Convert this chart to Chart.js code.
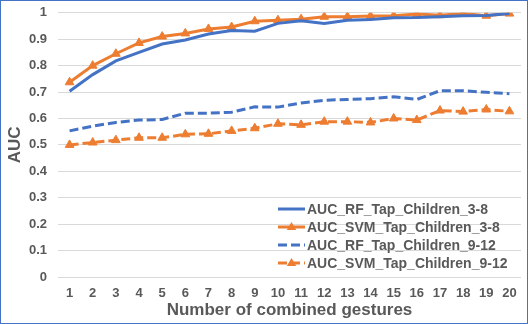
<!DOCTYPE html>
<html><head><meta charset="utf-8">
<script src="https://cdn.jsdelivr.net/npm/chart.js@4"></script>
<style>
html,body{margin:0;padding:0;background:#fff;}
#wrap{width:528px;height:324px;box-sizing:border-box;border:1px solid #4472C4;position:relative;overflow:hidden;}
canvas{display:block;position:absolute;left:0;top:-7px;}
</style></head><body>
<div id="wrap"><canvas id="c" width="526" height="329"></canvas></div>
<script>
const categories = ['1','2','3','4','5','6','7','8','9','10','11','12','13','14','15','16','17','18','19','20'];
const rf38  = [0.703,0.766,0.818,0.850,0.882,0.897,0.920,0.933,0.930,0.960,0.970,0.960,0.972,0.975,0.981,0.982,0.985,0.989,0.990,0.997];
const svm38 = [0.737,0.800,0.845,0.886,0.910,0.922,0.939,0.946,0.968,0.972,0.976,0.985,0.985,0.988,0.989,0.995,0.991,0.997,0.989,0.997];
const rf912 = [0.553,0.571,0.585,0.594,0.596,0.620,0.620,0.624,0.644,0.643,0.659,0.669,0.672,0.675,0.682,0.672,0.705,0.705,0.699,0.694];
const svm912= [0.500,0.509,0.518,0.527,0.527,0.540,0.542,0.553,0.563,0.580,0.576,0.588,0.588,0.585,0.600,0.594,0.630,0.626,0.634,0.627];
const seriesNames = ['AUC_RF_Tap_Children_3-8','AUC_SVM_Tap_Children_3-8','AUC_RF_Tap_Children_9-12','AUC_SVM_Tap_Children_9-12'];
const yTicks = [0,0.1,0.2,0.3,0.4,0.5,0.6,0.7,0.8,0.9,1];

const BLUE='#4472C4', ORANGE='#ED7D31', TXT='#595959';
const FONT='"Liberation Sans", Arial, sans-serif';

function ds(label,data,color,dash,tri){
  return {label,data,borderColor:color,backgroundColor:color,borderWidth:3,borderDash:dash,
    pointStyle:tri?'triangle':false,pointRadius:tri?5:0,pointHoverRadius:tri?5:0,
    pointBackgroundColor:color,pointBorderColor:color,pointBorderWidth:1,tension:0,fill:false};
}

const legendPlugin={
  id:'customLegend',
  afterDatasetsDraw(chart){
    const ctx=chart.ctx;
    const x0=277, y0=215, step=18;
    ctx.save();
    chart.data.datasets.forEach((d,i)=>{
      const y=y0+i*step;
      ctx.strokeStyle=d.borderColor; ctx.lineWidth=3;
      ctx.setLineDash(d.borderDash||[]);
      ctx.beginPath(); ctx.moveTo(x0,y); ctx.lineTo(x0+27,y); ctx.stroke();
      ctx.setLineDash([]);
      if(d.pointStyle==='triangle'){
        const cx=x0+13.5, r=5;
        ctx.fillStyle=d.borderColor;
        ctx.beginPath();
        ctx.moveTo(cx,y-r); ctx.lineTo(cx+r*0.95,y+r*0.6); ctx.lineTo(cx-r*0.95,y+r*0.6); ctx.closePath(); ctx.fill();
      }
      ctx.fillStyle=TXT; ctx.font='bold 14px '+FONT; ctx.textBaseline='middle'; ctx.textAlign='left';
      ctx.fillText(d.label,x0+29,y+1);
    });
    ctx.restore();
  }
};

new Chart(document.getElementById('c'),{
  type:'line',
  data:{labels:categories,datasets:[
    ds(seriesNames[0],rf38,BLUE,[],false),
    ds(seriesNames[1],svm38,ORANGE,[],true),
    ds(seriesNames[2],rf912,BLUE,[9,4],false),
    ds(seriesNames[3],svm912,ORANGE,[9,4],true)
  ]},
  options:{
    responsive:false,animation:false,
    layout:{padding:{left:0,right:3,top:0,bottom:0}},
    plugins:{legend:{display:false},tooltip:{enabled:false}},
    scales:{
      x:{offset:true,grid:{display:false,drawTicks:false},border:{display:false},
        afterFit(s){s.height=46;},
        ticks:{color:TXT,font:{family:FONT,size:13,weight:'bold'},padding:9,maxRotation:0,autoSkip:false},
        title:{display:true,text:'Number of combined gestures',color:TXT,font:{family:FONT,size:17,weight:'bold'},padding:{top:0,bottom:2}}},
      y:{min:0,max:1,
        afterBuildTicks(s){s.ticks=yTicks.map(v=>({value:v}));},
        afterFit(s){s.width=57;},
        grid:{color:'#D9D9D9',lineWidth:1,drawTicks:false},border:{display:false},
        ticks:{color:TXT,font:{family:FONT,size:13,weight:'bold'},padding:11,callback:v=>String(Math.round(v*10)/10)},
        title:{display:true,text:'AUC',color:TXT,font:{family:FONT,size:17,weight:'bold'},padding:{top:4,bottom:0}}}
    }
  },
  plugins:[legendPlugin]
});
</script></body></html>
